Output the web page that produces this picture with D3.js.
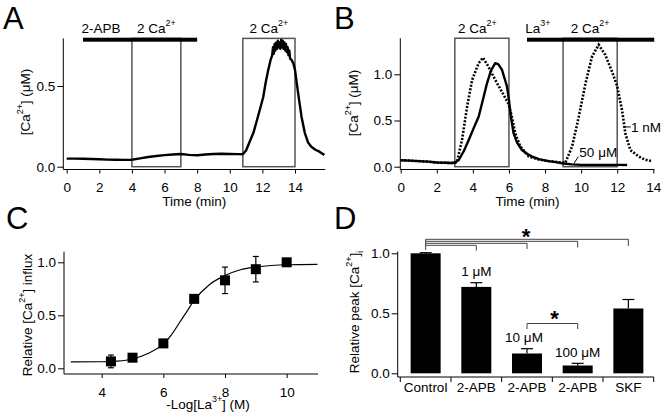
<!DOCTYPE html>
<html>
<head>
<meta charset="utf-8">
<script src="https://cdn.jsdelivr.net/npm/d3@7"></script>
<style>
  body { margin: 0; background: #fff; }
</style>
</head>
<body>
<script>
const FONT = "Liberation Sans, Arial, Helvetica, sans-serif"
const FS = 13.5

// ---- panel A: 2-APB trace (time in min, [Ca2+] in uM)
const traceA = [
  [0, 0.050], [0.5, 0.050], [1, 0.049], [1.5, 0.048], [2, 0.046], [2.5, 0.044], [3, 0.043],
  [3.5, 0.042], [4, 0.043], [4.5, 0.052], [5, 0.060], [5.5, 0.066], [6, 0.072], [6.5, 0.076],
  [7, 0.079], [7.5, 0.073], [8, 0.071], [8.5, 0.076], [9, 0.079], [9.5, 0.080], [10, 0.079],
  [10.5, 0.078], [10.8, 0.077], [11, 0.10], [11.2, 0.15], [11.45, 0.21], [11.7, 0.30],
  [12.05, 0.43], [12.2, 0.52], [12.36, 0.60], [12.5, 0.66], [12.6, 0.69], [12.65, 0.74],
  [12.7, 0.70], [12.75, 0.76], [12.8, 0.72], [12.85, 0.77], [12.9, 0.73], [12.95, 0.78],
  [13.0, 0.74], [13.05, 0.77], [13.1, 0.73], [13.15, 0.785], [13.2, 0.74], [13.25, 0.78],
  [13.3, 0.73], [13.35, 0.77], [13.4, 0.72], [13.45, 0.76], [13.5, 0.71], [13.55, 0.74],
  [13.6, 0.69], [13.65, 0.72], [13.7, 0.67], [13.8, 0.66], [13.9, 0.64], [14.0, 0.60],
  [14.2, 0.45], [14.4, 0.31], [14.6, 0.21], [14.8, 0.15], [15.0, 0.124], [15.25, 0.105],
  [15.5, 0.093], [15.8, 0.072]
]
const ticksA = [0, 2, 4, 6, 8, 10, 12, 14]

// ---- panel B: La3+ traces
const trace50uM = [
  [0, 0.07], [0.5, 0.066], [1, 0.06], [1.5, 0.055], [2, 0.045], [2.5, 0.042], [2.8, 0.04],
  [3.0, 0.045], [3.21, 0.07], [3.5, 0.17], [3.77, 0.29], [4.05, 0.42], [4.32, 0.54],
  [4.55, 0.72], [4.78, 0.90], [5.0, 1.04], [5.24, 1.12], [5.4, 1.11], [5.61, 1.05],
  [5.75, 0.96], [5.89, 0.87], [6.0, 0.72], [6.1, 0.55], [6.26, 0.36], [6.45, 0.26],
  [6.72, 0.18], [7.0, 0.14], [7.28, 0.11], [7.7, 0.08], [8.2, 0.06], [8.6, 0.05],
  [9.0, 0.035], [9.5, 0.025], [10, 0.02], [10.5, 0.02], [11, 0.02], [11.5, 0.02],
  [12, 0.02], [12.55, 0.018]
]
const trace1nM = [
  [0, 0.07], [0.5, 0.066], [1, 0.06], [1.5, 0.055], [2, 0.045], [2.5, 0.042], [2.8, 0.04],
  [3.0, 0.04], [3.12, 0.05], [3.4, 0.29], [3.68, 0.65], [3.96, 0.94], [4.32, 1.12],
  [4.56, 1.18], [4.87, 1.08], [5.24, 0.94], [5.61, 0.81], [5.98, 0.68], [6.16, 0.54],
  [6.35, 0.36], [6.63, 0.22], [7.1, 0.11], [7.6, 0.08], [8.2, 0.06], [8.7, 0.05],
  [9.12, 0.04], [9.5, 0.22], [9.87, 0.54], [10.24, 0.90], [10.6, 1.19], [10.97, 1.32],
  [11.34, 1.21], [11.71, 1.03], [12.0, 0.87], [12.27, 0.61], [12.45, 0.36], [12.73, 0.18],
  [13.19, 0.11], [13.5, 0.08], [13.9, 0.06]
]
const ticksB = [0, 2, 4, 6, 8, 10, 12, 14]

// ---- panel C: dose response
const laLog = [4.3, 5, 6, 7, 8, 9, 10]
const laInflux = [0.065, 0.10, 0.235, 0.655, 0.83, 0.935, 1.0]
const laErr = [0.06, 0, 0, 0, 0.125, 0.12, 0]
const fitLog = [3, 4, 4.5, 5, 5.5, 6, 6.25, 6.5, 6.75, 7, 7.5, 8, 8.5, 9, 9.5, 10, 11]
const fitVal = [0.06, 0.062, 0.068, 0.088, 0.14, 0.23, 0.31, 0.42, 0.53, 0.64, 0.79, 0.875, 0.93, 0.955, 0.97, 0.977, 0.98]
const ticksC = [4, 6, 8, 10]

// ---- panel D: relative peak
const dCats = ["Control", "2-APB", "2-APB", "2-APB", "SKF"]
const dVals = [1.0, 0.72, 0.165, 0.065, 0.54]
const dErr = [0.005, 0.035, 0.04, 0.018, 0.075]
const dConc = ["", "1 \u03bcM", "10 \u03bcM", "100 \u03bcM", ""]
const sigVsControl = [4, 3, 2, 1]
const sigPair = [2, 3]

const yTicks = [0, 0.5, 1.0]

const svg = d3.select("body").append("svg")
  .attr("width", 664)
  .attr("height", 418)
  .attr("font-family", FONT)

// text with superscripts / subscripts: parts = [[str, mode]], mode 1 sup, -1 sub
function rich(t, parts, fs) {
  let shift = 0
  parts.forEach(function(p) {
    const target = p[1] === 1 ? -0.5 * fs : (p[1] === -1 ? 0.3 * fs : 0)
    t.append("tspan")
      .attr("dy", target - shift)
      .attr("font-size", p[1] ? fs * 0.66 : fs)
      .text(p[0])
    shift = target
  })
  return t
}

function label(x, y, parts, anchor, rotate) {
  const t = svg.append("text")
    .attr("x", rotate ? 0 : x)
    .attr("y", rotate ? 0 : y)
    .attr("text-anchor", anchor || "middle")
    .attr("font-size", FS)
    .attr("fill", "#000")
  if (rotate) t.attr("transform", "translate(" + x + "," + y + ") rotate(-90)")
  return rich(t, parts, FS)
}

function yAxis(scale, x, ticks, top, bottom) {
  const g = svg.append("g")
    .attr("transform", "translate(" + x + ",0)")
    .call(d3.axisLeft(scale).tickValues(ticks).tickFormat(d3.format(".1f"))
      .tickSize(6).tickPadding(2).tickSizeOuter(0))
  g.attr("font-size", FS).attr("font-family", FONT)
  g.select(".domain").remove()
  g.append("line").attr("y1", top).attr("y2", bottom).attr("stroke", "#000")
  return g
}

function xAxis(scale, y, ticks, left, right) {
  const g = svg.append("g")
    .attr("transform", "translate(0," + y + ")")
    .call(d3.axisBottom(scale).tickValues(ticks).tickSize(4).tickPadding(9).tickSizeOuter(0))
  g.attr("font-size", FS).attr("font-family", FONT)
  g.select(".domain").remove()
  g.append("line").attr("x1", left).attr("x2", right).attr("stroke", "#000")
  return g
}

function letter(x, y, s) {
  svg.append("text").attr("x", x).attr("y", y)
    .attr("font-size", 31).attr("fill", "#000").text(s)
}

const CA = [["2 Ca", 0], ["2+", 1]]

// ================= A =================
const xA = d3.scaleLinear().domain([0, 14]).range([66.7, 295])
const yA = d3.scaleLinear().domain([0, 0.5]).range([166.7, 86])

letter(3, 28.5, "A")
yAxis(yA, 63.3, [0, 0.5], yA(0.795), 169.5)
xAxis(xA, 169.5, ticksA, 63.3, xA(15.85))

// solution boxes
;[[4, 7], [10.8, 14]].forEach(function(b) {
  svg.append("rect")
    .attr("x", xA(b[0])).attr("y", yA(0.795))
    .attr("width", xA(b[1]) - xA(b[0])).attr("height", yA(0) - yA(0.795))
    .attr("fill", "none").attr("stroke", "#555").attr("stroke-width", 1.5)
})
// 2-APB bar
svg.append("rect")
  .attr("x", xA(1)).attr("y", 37.7)
  .attr("width", xA(8) - xA(1)).attr("height", 4).attr("fill", "#000")

label(xA(2.1), 33, [["2-APB", 0]])
label(xA(5.5), 33, CA)
label(xA(12.4), 33, CA)

svg.append("path")
  .datum(traceA)
  .attr("fill", "none").attr("stroke", "#000").attr("stroke-width", 2.4)
  .attr("stroke-linejoin", "round")
  .attr("d", d3.line().x(function(d) { return xA(d[0]) }).y(function(d) { return yA(d[1]) }))

label(29.5, 102, [["[Ca", 0], ["2+", 1], ["] (\u03bcM)", 0]], "middle", true)
label((63.3 + xA(15.85)) / 2, 206, [["Time (min)", 0]])

// ================= B =================
const xB = d3.scaleLinear().domain([0, 14]).range([400.7, 653.3])
const yB = d3.scaleLinear().domain([0, 1]).range([166.7, 74.3])

letter(334, 28.5, "B")
yAxis(yB, 400.3, yTicks, yB(1.39), 169.5)
xAxis(xB, 169.5, ticksB, 400.3, 654.5)

;[[3, 6], [9, 12]].forEach(function(b) {
  svg.append("rect")
    .attr("x", xB(b[0])).attr("y", yB(1.39))
    .attr("width", xB(b[1]) - xB(b[0])).attr("height", yB(0) - yB(1.39))
    .attr("fill", "none").attr("stroke", "#555").attr("stroke-width", 1.5)
})
svg.append("rect")
  .attr("x", xB(7)).attr("y", 37.7)
  .attr("width", xB(14.05) - xB(7)).attr("height", 4).attr("fill", "#000")

label(xB(4.25), 33, CA)
label(xB(7.6), 33, [["La", 0], ["3+", 1]])
label(xB(10.5), 33, CA)

const lineB = d3.line().x(function(d) { return xB(d[0]) }).y(function(d) { return yB(d[1]) })
svg.append("path")
  .datum(trace50uM)
  .attr("fill", "none").attr("stroke", "#000").attr("stroke-width", 2.4)
  .attr("stroke-linejoin", "round")
  .attr("d", lineB)
svg.append("path")
  .datum(trace1nM)
  .attr("fill", "none").attr("stroke", "#000").attr("stroke-width", 2.6)
  .attr("stroke-dasharray", "2,1.6")
  .attr("d", lineB)

// trace labels
svg.append("line").attr("x1", xB(9.6)).attr("y1", yB(0.035)).attr("x2", xB(9.85)).attr("y2", yB(0.11))
  .attr("stroke", "#000")
label(xB(10.95), 156.5, [["50 \u03bcM", 0]])
svg.append("line").attr("x1", xB(12.42)).attr("x2", xB(12.75)).attr("y1", yB(0.43)).attr("y2", yB(0.43))
  .attr("stroke", "#000")
label(xB(12.77), 131.5, [["1 nM", 0]], "start")

label(358, 103, [["[Ca", 0], ["2+", 1], ["] (\u03bcM)", 0]], "middle", true)
label(527.5, 206, [["Time (min)", 0]])

// ================= C =================
const xC = d3.scaleLinear().domain([2.8, 11]).range([64.7, 317.5])
const yC = d3.scaleLinear().domain([0, 1]).range([368.3, 262.3])

letter(6, 229, "C")
yAxis(yC, 64, yTicks, yC(1.1), 374)
xAxis(xC, 374, ticksC, 64, 318)

svg.append("path")
  .datum(fitLog.map(function(d, i) { return [d, fitVal[i]] }))
  .attr("fill", "none").attr("stroke", "#000").attr("stroke-width", 1.2)
  .attr("d", d3.line().curve(d3.curveMonotoneX)
    .x(function(d) { return xC(d[0]) }).y(function(d) { return yC(d[1]) }))

const cPts = laLog.map(function(d, i) { return { x: d, y: laInflux[i], e: laErr[i] } })
const cErr = svg.append("g").selectAll("g").data(cPts.filter(function(d) { return d.e > 0 }))
  .enter().append("g").attr("stroke", "#000").attr("stroke-width", 1.2)
cErr.append("line")
  .attr("x1", function(d) { return xC(d.x) }).attr("x2", function(d) { return xC(d.x) })
  .attr("y1", function(d) { return yC(d.y - d.e) }).attr("y2", function(d) { return yC(d.y + d.e) })
cErr.append("line")
  .attr("x1", function(d) { return xC(d.x) - 3 }).attr("x2", function(d) { return xC(d.x) + 3 })
  .attr("y1", function(d) { return yC(d.y + d.e) }).attr("y2", function(d) { return yC(d.y + d.e) })
cErr.append("line")
  .attr("x1", function(d) { return xC(d.x) - 3 }).attr("x2", function(d) { return xC(d.x) + 3 })
  .attr("y1", function(d) { return yC(d.y - d.e) }).attr("y2", function(d) { return yC(d.y - d.e) })

svg.append("g").selectAll("rect").data(cPts).enter().append("rect")
  .attr("x", function(d) { return xC(d.x) - 5 })
  .attr("y", function(d) { return yC(d.y) - 5 })
  .attr("width", 10).attr("height", 10).attr("fill", "#000")

label(32, 315, [["Relative [Ca", 0], ["2+", 1], ["] influx", 0]], "middle", true)
label(208, 409, [["-Log[La", 0], ["3+", 1], ["] (M)", 0]])

// ================= D =================
const xD = d3.scaleBand().domain(d3.range(dCats.length)).range([400.3, 653.7]).padding(0)
const yD = d3.scaleLinear().domain([0, 1]).range([373.3, 253.3])
const barW = 30

letter(334, 229, "D")
yAxis(yD, 397.7, yTicks, yD(1.015), 377)

const gx = svg.append("g").attr("font-size", FS).attr("text-anchor", "middle")
gx.append("line").attr("x1", 397.7).attr("x2", 653.7).attr("y1", 377).attr("y2", 377).attr("stroke", "#000")
d3.range(dCats.length + 1).forEach(function(i) {
  const xx = i < dCats.length ? xD(i) : xD(dCats.length - 1) + xD.bandwidth()
  gx.append("line").attr("x1", xx).attr("x2", xx).attr("y1", 377).attr("y2", 382).attr("stroke", "#000")
})
gx.selectAll("text.cat").data(dCats).enter().append("text")
  .attr("class", "cat")
  .attr("x", function(d, i) { return xD(i) + xD.bandwidth() / 2 })
  .attr("y", 392)
  .text(function(d) { return d })

const cx = function(i) { return xD(i) + xD.bandwidth() / 2 }

svg.append("g").selectAll("rect").data(dVals).enter().append("rect")
  .attr("x", function(d, i) { return cx(i) - barW / 2 })
  .attr("y", function(d) { return yD(d) })
  .attr("width", barW)
  .attr("height", function(d) { return yD(0) - yD(d) })
  .attr("fill", "#000")

const dEb = svg.append("g").attr("stroke", "#000").attr("stroke-width", 1.2)
dVals.forEach(function(v, i) {
  dEb.append("line").attr("x1", cx(i)).attr("x2", cx(i)).attr("y1", yD(v)).attr("y2", yD(v + dErr[i]))
  dEb.append("line").attr("x1", cx(i) - 6).attr("x2", cx(i) + 6)
    .attr("y1", yD(v + dErr[i])).attr("y2", yD(v + dErr[i]))
})

dConc.forEach(function(s, i) {
  if (!s) return
  label(cx(i) - (i === 2 ? 3 : 0), yD(dVals[i] + dErr[i]) - 6.5, [[s, 0]])
})

// significance brackets vs control
const sg = svg.append("g").attr("stroke", "#444").attr("stroke-width", 1).attr("fill", "none")
sg.append("line").attr("x1", cx(0)).attr("x2", cx(0)).attr("y1", 239.3).attr("y2", 250)
sigVsControl.forEach(function(k, i) {
  const yy = 239.3 + i * 2
  sg.append("path").attr("d", "M" + cx(0) + "," + yy + "H" + cx(k) + "V" + (246 + i * 1.5))
})
sg.append("path").attr("d", "M" + cx(sigPair[0]) + ",329" + "V323.5H" + cx(sigPair[1]) + "V329")

svg.append("text").attr("x", 526).attr("y", 243.5).attr("text-anchor", "middle")
  .attr("font-size", 22).attr("font-weight", "bold").text("*")
svg.append("text").attr("x", 554.5).attr("y", 326).attr("text-anchor", "middle")
  .attr("font-size", 22).attr("font-weight", "bold").text("*")

label(359, 312, [["Relative peak [Ca", 0], ["2+", 1], ["]", 0], ["i", -1]], "middle", true)
</script>
</body>
</html>
